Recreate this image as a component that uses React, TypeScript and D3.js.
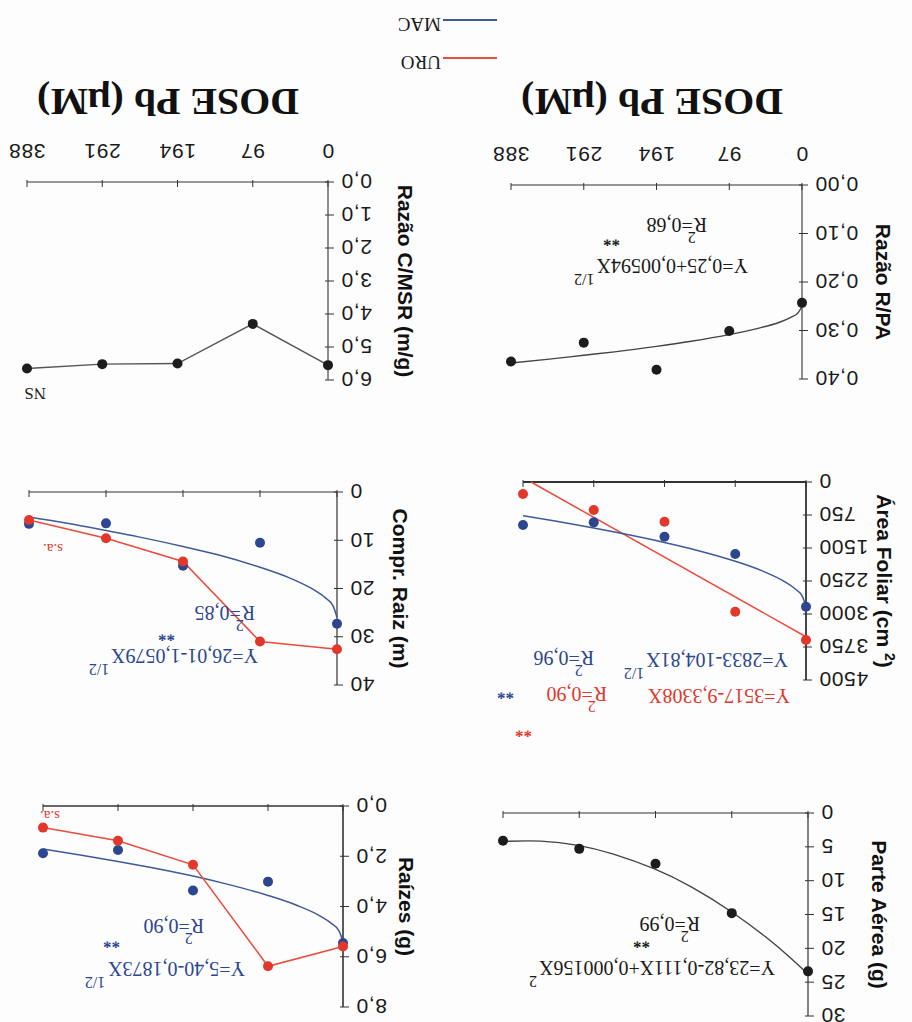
import React from 'react';
import * as d3 from 'd3';

// ---------- DATA ----------
const doses = [0, 97, 194, 291, 388];
const doseLabels = ['0', '97', '194', '291', '388'];

// Parte Aérea (g)
const paMeans = [23.4, 14.8, 7.5, 5.3, 4.1];
const paFitX = [0, 25, 50, 97, 150, 194, 250, 291, 340, 388];
const paFitY = [23.8, 21.1, 18.6, 14.5, 10.7, 8.2, 5.9, 4.7, 4.0, 4.2];
const paTicks = [0, 5, 10, 15, 20, 25, 30];
const paTickLabels = ['0', '5', '10', '15', '20', '25', '30'];

// Raízes (g)
const raUro = [5.59, 6.38, 2.34, 1.38, 0.86];
const raMac = [5.45, 3.01, 3.36, 1.75, 1.88];
const raFitX = [0, 5, 15, 30, 60, 97, 150, 194, 250, 291, 340, 388];
const raFitY = [5.4, 4.98, 4.67, 4.37, 3.95, 3.56, 3.11, 2.79, 2.44, 2.21, 1.95, 1.71];
const raTicks = [0, 2, 4, 6, 8];
const raTickLabels = ['0,0', '2,0', '4,0', '6,0', '8,0'];

// Área Foliar (cm²)
const afUro = [3591, 2948, 902, 636, 273];
const afMac = [2834, 1636, 1243, 917, 977];
const afUroFitX = [0, 377];
const afUroFitY = [3517, 0];
const afMacFitX = [0, 5, 15, 30, 60, 97, 150, 194, 250, 291, 340, 388];
const afMacFitY = [2833, 2599, 2427, 2259, 2021, 1801, 1549, 1373, 1176, 1045, 900, 768];
const afTicks = [0, 750, 1500, 2250, 3000, 3750, 4500];
const afTickLabels = ['0', '750', '1500', '2250', '3000', '3750', '4500'];

// Compr. Raiz (m)
const crUro = [32.6, 31.0, 14.4, 9.6, 5.8];
const crMac = [27.3, 10.5, 15.3, 6.5, 6.6];
const crFitX = [0, 5, 15, 30, 60, 97, 150, 194, 250, 291, 340, 388];
const crFitY = [26.0, 23.6, 21.9, 20.2, 17.8, 15.6, 13.0, 11.3, 9.3, 8.0, 6.5, 5.2];
const crTicks = [0, 10, 20, 30, 40];
const crTickLabels = ['0', '10', '20', '30', '40'];

// Razão R/PA
const rpMeans = [0.243, 0.301, 0.381, 0.325, 0.364];
const rpFitX = [0, 5, 15, 30, 60, 97, 150, 194, 250, 291, 340, 388];
const rpFitY = [0.25, 0.263, 0.273, 0.283, 0.296, 0.3085, 0.3227, 0.3327, 0.344, 0.351, 0.3595, 0.367];
const rpTicks = [0, 0.1, 0.2, 0.3, 0.4];
const rpTickLabels = ['0,00', '0,10', '0,20', '0,30', '0,40'];

// Razão C/MSR (m/g)
const cmMeans = [5.55, 4.3, 5.5, 5.52, 5.65];
const cmTicks = [0, 1, 2, 3, 4, 5, 6];
const cmTickLabels = ['0,0', '1,0', '2,0', '3,0', '4,0', '5,0', '6,0'];

const legendNames = ['URO', 'MAC'];

// ---------- STYLE ----------
const RED = '#e2372b';
const BLUE = '#2c4690';
const BLUE_LINE = '#3e5a98';
const RED_LINE = '#ec4a3c';
const BLACK = '#1c1c1c';
const SANS = '"Liberation Sans", Arial, sans-serif';
const SERIF = '"Liberation Serif", "Times New Roman", serif';

type Panel = {
  x0: number; x1: number; y0: number; y1: number; max: number;
  ticks: number[]; labels: string[]; title: React.ReactNode; titleX: number;
  showDose: boolean; axisW: number;
};

function Axes({ p }: { p: Panel }) {
  const x = d3.scaleLinear().domain([0, 388]).range([p.x0, p.x1]);
  const y = d3.scaleLinear().domain([0, p.max]).range([p.y0, p.y1]);
  return (
    <g>
      <line x1={p.x0} x2={p.x1} y1={p.y0} y2={p.y0} stroke="#333" strokeWidth={p.axisW} />
      <line x1={p.x0} x2={p.x0} y1={p.y0} y2={p.y1} stroke="#333" strokeWidth={p.axisW} />
      {doses.map((d, i) => (
        <line key={'xt' + i} x1={x(d)} x2={x(d)} y1={p.y0 - 5} y2={p.y0 + 2} stroke="#333" strokeWidth={1} />
      ))}
      {p.ticks.map((t, i) => (
        <g key={'yt' + i}>
          <line x1={p.x0 - 6} x2={p.x0 + 3} y1={y(t)} y2={y(t)} stroke="#333" strokeWidth={1} />
          <text x={p.x0 - 13} y={y(t)} dy="0.36em" textAnchor="end" fontFamily={SANS} fontSize={21} fill="#1a1a1a" letterSpacing={0.6}>
            {p.labels[i]}
          </text>
        </g>
      ))}
      {p.showDose && doses.map((d, i) => (
        <text key={'xl' + i} x={x(d)} y={p.y0 + 38} textAnchor="middle" fontFamily={SANS} fontSize={21} fill="#1a1a1a" letterSpacing={0.6}>
          {doseLabels[i]}
        </text>
      ))}
      <text transform={`translate(${p.titleX},${(p.y0 + p.y1) / 2}) rotate(-90)`} textAnchor="middle" dy="0.36em"
        fontFamily={SANS} fontWeight="bold" fontSize={21} fill="#111">
        {p.title}
      </text>
    </g>
  );
}

function Dots({ p, vals, color }: { p: Panel; vals: number[]; color: string }) {
  const x = d3.scaleLinear().domain([0, 388]).range([p.x0, p.x1]);
  const y = d3.scaleLinear().domain([0, p.max]).range([p.y0, p.y1]);
  return <g>{vals.map((v, i) => <circle key={i} cx={x(doses[i])} cy={y(v)} r={5} fill={color} />)}</g>;
}

function Curve({ p, xs, ys, color, w = 1.5, curve = d3.curveMonotoneX }: { p: Panel; xs: number[]; ys: number[]; color: string; w?: number; curve?: any }) {
  const x = d3.scaleLinear().domain([0, 388]).range([p.x0, p.x1]);
  const y = d3.scaleLinear().domain([0, p.max]).range([p.y0, p.y1]);
  const gen = d3.line<number>().x((_, i) => x(xs[i])).y((v) => y(v)).curve(curve);
  return <path d={gen(ys) || ''} fill="none" stroke={color} strokeWidth={w} />;
}

function T({ x, y, s = 20, c = '#1a1a1a', children, b = false }: any) {
  return <text x={x} y={y} fontFamily={SERIF} fontSize={s} fill={c} fontWeight={b ? 'bold' : 'normal'}>{children}</text>;
}

// equation with superscript exponent: main text + raised exponent in one text element
function Eq({ x, y, main, sup, c = '#1a1a1a', gap = 2 }: any) {
  return (
    <text x={x} y={y} fontFamily={SERIF} fontSize={20} fill={c}>
      {main}
      <tspan dx={gap} dy={-15} fontSize={16}>{sup}</tspan>
    </text>
  );
}

// R² = value: "2" raised above, value continues right after the R
function R2({ x, y, val, c = '#1a1a1a' }: any) {
  return (
    <text x={x} y={y} fontFamily={SERIF} fontSize={20} fill={c}>
      R
      <tspan dx={-2} dy={-14} fontSize={16}>2</tspan>
      <tspan dx={-5} dy={14}>{val}</tspan>
    </text>
  );
}

const panels: Record<string, Panel> = {
  pa: { x0: 104, x1: 409, y0: 209, y1: 6, max: 30, ticks: paTicks, labels: paTickLabels, title: 'Parte Aérea (g)', titleX: 32, showDose: false, axisW: 1.2 },
  ra: { x0: 569, x1: 869, y0: 216, y1: 15, max: 8, ticks: raTicks, labels: raTickLabels, title: 'Raízes (g)', titleX: 505, showDose: false, axisW: 1.6 },
  af: { x0: 106, x1: 389, y0: 540, y1: 342, max: 4500, ticks: afTicks, labels: afTickLabels,
    title: (<>Área Foliar (cm <tspan dy={-8} fontSize={14}>2</tspan><tspan dy={8}>)</tspan></>), titleX: 27, showDose: false, axisW: 1.8 },
  cr: { x0: 575, x1: 883, y0: 530, y1: 337, max: 40, ticks: crTicks, labels: crTickLabels, title: 'Compr. Raiz (m)', titleX: 511, showDose: false, axisW: 1.2 },
  rp: { x0: 110, x1: 401, y0: 837, y1: 643, max: 0.4, ticks: rpTicks, labels: rpTickLabels, title: 'Razão R/PA', titleX: 28, showDose: true, axisW: 1.1 },
  cm: { x0: 584, x1: 885, y0: 840, y1: 642, max: 6, ticks: cmTicks, labels: cmTickLabels, title: 'Razão C/MSR (m/g)', titleX: 506, showDose: true, axisW: 1.1 },
};

export default function App() {
  const P = panels;
  return (
    <svg width={912} height={1022} style={{ position: 'absolute', left: 0, top: 0, background: '#fff' }}>
      <rect width={912} height={1022} fill="#fdfdfd" />
      <g transform="rotate(180 456 511)">
        {/* Parte Aérea */}
        <Axes p={P.pa} />
        <Curve p={P.pa} xs={paFitX} ys={paFitY} color="#444" w={1.4} curve={d3.curveBasis} />
        <Dots p={P.pa} vals={paMeans} color={BLACK} />
        <Eq x={137} y={61} main="Y=23,82-0,111X+0,000156X" sup="2" />
        <T x={262} y={85} s={17} b>**</T>
        <R2 x={212} y={105} val="=0,99" />

        {/* Raízes */}
        <Axes p={P.ra} />
        <Curve p={P.ra} xs={raFitX} ys={raFitY} color={BLUE_LINE} w={1.5} />
        <Curve p={P.ra} xs={doses} ys={raUro} color={RED_LINE} w={1.5} curve={d3.curveLinear} />
        <Dots p={P.ra} vals={raMac} color={BLUE} />
        <Dots p={P.ra} vals={raUro} color={RED} />
        <Eq x={667} y={60} main="Y=5,40-0,1873X" sup="1/2" c={BLUE} gap={3} />
        <T x={792} y={85} s={17} c={BLUE} b>**</T>
        <R2 x={708} y={103} val="=0,90" c={BLUE} />
        <T x={852} y={211} s={15} c={RED}>s.a.</T>

        {/* Área Foliar */}
        <Axes p={P.af} />
        <Curve p={P.af} xs={afUroFitX} ys={afUroFitY} color={RED_LINE} w={1.5} curve={d3.curveLinear} />
        <Curve p={P.af} xs={afMacFitX} ys={afMacFitY} color={BLUE_LINE} w={1.5} />
        <Dots p={P.af} vals={afUro} color={RED} />
        <Dots p={P.af} vals={afMac} color={BLUE} />
        <Eq x={124} y={369} main="Y=2833-104,81X" sup="1/2" c={BLUE} />
        <R2 x={318} y={371} val="=0,96" c={BLUE} />
        <T x={398} y={334} s={17} c={BLUE} b>**</T>
        <text x={122} y={333} fontFamily={SERIF} fontSize={20} fill={RED}>Y=3517-9,3308X</text>
        <R2 x={305} y={335} val="=0,90" c={RED} />
        <T x={380} y={296} s={17} c={RED} b>**</T>

        {/* Compr. Raiz */}
        <Axes p={P.cr} />
        <Curve p={P.cr} xs={crFitX} ys={crFitY} color={BLUE_LINE} w={1.5} />
        <Curve p={P.cr} xs={doses} ys={crUro} color={RED_LINE} w={1.5} curve={d3.curveLinear} />
        <Dots p={P.cr} vals={crMac} color={BLUE} />
        <Dots p={P.cr} vals={crUro} color={RED} />
        <Eq x={654} y={373} main="Y=26,01-1,0579X" sup="1/2" c={BLUE} />
        <T x={737} y={392} s={17} c={BLUE} b>**</T>
        <R2 x={657} y={416} val="=0,85" c={BLUE} />
        <T x={849} y={478} s={15} c={RED}>s.a.</T>

        {/* Razão R/PA */}
        <Axes p={P.rp} />
        <Curve p={P.rp} xs={rpFitX} ys={rpFitY} color="#444" w={1.4} />
        <Dots p={P.rp} vals={rpMeans} color={BLACK} />
        <Eq x={164} y={763} main="Y=0,25+0,00594X" sup="1/2" />
        <T x={292} y={787} s={17} b>**</T>
        <R2 x={205} y={804} val="=0,68" />

        {/* Razão C/MSR */}
        <Axes p={P.cm} />
        <Curve p={P.cm} xs={doses} ys={cmMeans} color="#555" w={1.4} curve={d3.curveLinear} />
        <Dots p={P.cm} vals={cmMeans} color={BLACK} />
        <T x={866} y={634} s={17}>NS</T>

        {/* x titles */}
        <text x={260} y={933} textAnchor="middle" fontFamily={SERIF} fontWeight="bold" fontSize={37} fill="#111"
          textLength={262} lengthAdjust="spacingAndGlyphs">DOSE Pb (μM)</text>
        <text x={744} y={933} textAnchor="middle" fontFamily={SERIF} fontWeight="bold" fontSize={37} fill="#111"
          textLength={262} lengthAdjust="spacingAndGlyphs">DOSE Pb (μM)</text>

        {/* legend */}
        <line x1={415} x2={469} y1={964} y2={964} stroke={RED_LINE} strokeWidth={2} />
        <T x={471} y={966} s={19}>{legendNames[0]}</T>
        <line x1={415} x2={469} y1={1002} y2={1002} stroke={BLUE_LINE} strokeWidth={2} />
        <T x={471} y={1004} s={19}>{legendNames[1]}</T>
      </g>
    </svg>
  );
}
